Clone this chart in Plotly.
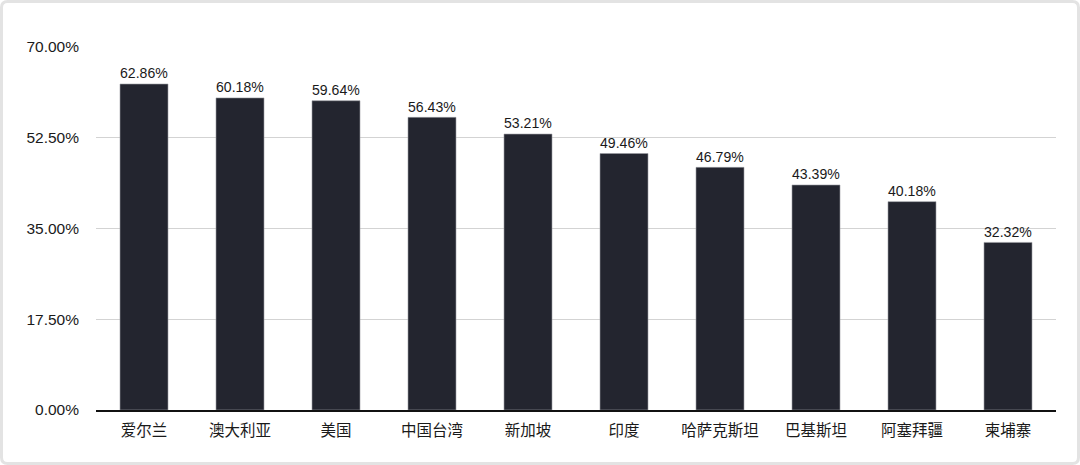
import plotly.graph_objects as go

categories = ["爱尔兰", "澳大利亚", "美国", "中国台湾", "新加坡", "印度", "哈萨克斯坦", "巴基斯坦", "阿塞拜疆", "柬埔寨"]
values = [62.86, 60.18, 59.64, 56.43, 53.21, 49.46, 46.79, 43.39, 40.18, 32.32]
y_ticks = [0, 17.5, 35, 52.5, 70]
y_tick_labels = ["0.00%", "17.50%", "35.00%", "52.50%", "70.00%"]

W, H = 1080, 465
L, R, T, B = 96, 24, 47, 55

FONT = "Liberation Sans, Noto Sans CJK SC, sans-serif"
FS = 15.5

fig = go.Figure()
fig.add_trace(go.Bar(
    x=categories,
    y=values,
    marker=dict(color="#23252f", line=dict(color="#9a9ca3", width=0.6)),
    text=[f"{v:.2f}%" for v in values],
    textposition="outside",
    textfont=dict(family=FONT, size=FS, color="#1a1a1a"),
    cliponaxis=False,
))

pw = W - L - R
ph = H - T - B
def px_x(p):
    return (p - L) / pw
def px_y(p):
    return (H - B - p) / ph

x0, x1, y0, y1, rad = px_x(1.5), px_x(W - 1.5), px_y(H - 1.5), px_y(1.5), 6
rx = rad / pw
ry = rad / ph
path = (f"M {x0+rx},{y1} L {x1-rx},{y1} Q {x1},{y1} {x1},{y1-ry} "
        f"L {x1},{y0+ry} Q {x1},{y0} {x1-rx},{y0} L {x0+rx},{y0} "
        f"Q {x0},{y0} {x0},{y0+ry} L {x0},{y1-ry} Q {x0},{y1} {x0+rx},{y1} Z")

fig.update_layout(
    width=W, height=H,
    margin=dict(l=L, r=R, t=T, b=B),
    paper_bgcolor="white",
    plot_bgcolor="white",
    bargap=0.5,
    showlegend=False,
    font=dict(family=FONT, size=FS, color="#1a1a1a"),
    shapes=[dict(type="path", xref="paper", yref="paper", path=path,
                 line=dict(color="#e3e3e3", width=3), fillcolor="rgba(0,0,0,0)", layer="below")],
    xaxis=dict(
        showgrid=False,
        showline=True, linecolor="#111111", linewidth=1.5,
        ticks="", ticklabelstandoff=6,
        tickfont=dict(family=FONT, size=FS, color="#1a1a1a"),
    ),
    yaxis=dict(
        range=[0, 70],
        tickvals=y_ticks, ticktext=y_tick_labels,
        showgrid=True, gridcolor="#d3d3d3", gridwidth=1,
        zeroline=False, showline=False,
        ticks="", ticklabelstandoff=16,
        tickfont=dict(family=FONT, size=FS, color="#1a1a1a"),
    ),
)

fig.write_html("out.html", config={"displayModeBar": False},
               post_script="document.body.style.margin='0';document.body.style.overflow='hidden';")
